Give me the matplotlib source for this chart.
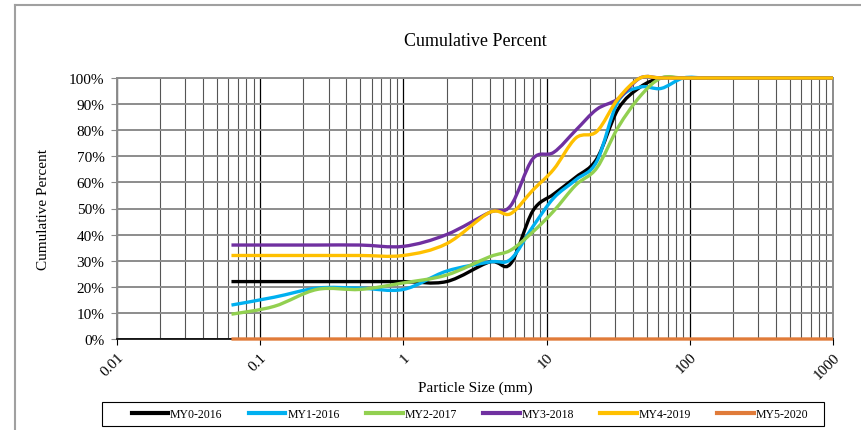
import matplotlib
matplotlib.use("Agg")
import matplotlib.pyplot as plt
import numpy as np
from matplotlib.lines import Line2D
from matplotlib.patches import PathPatch, Rectangle
from matplotlib.path import Path
from matplotlib.ticker import FixedLocator, LogLocator, NullFormatter

plt.rcParams["font.family"] = ["Liberation Serif", "DejaVu Serif"]

# sieve sizes (mm) and cumulative percent passing per survey year
sizes = [0.063, 0.125, 0.25, 0.5, 1, 2, 4, 5.6, 8, 11.2, 16, 22.4, 31.5, 45, 63, 90, 128, 180, 256, 362, 512, 1000]

my0_2016 = [22, 22, 22, 22, 22, 22, 29.5, 28.8, 49, 55.5, 62, 69, 88, 96.5, 100, 100, 100, 100, 100, 100, 100, 100]
my1_2016 = [13, 16, 19.5, 19.5, 19, 26, 29.5, 30.5, 43, 54, 61, 68, 91, 96.5, 96, 100, 100, 100, 100, 100, 100, 100]
my2_2017 = [9.5, 12.5, 19, 19, 21.5, 24.5, 31.5, 34, 41, 49, 59, 65.5, 81, 93, 100, 100, 100, 100, 100, 100, 100, 100]
my3_2018 = [36, 36, 36, 36, 35.5, 40, 48.5, 51, 69, 71.5, 80, 88, 92, 100, 100, 100, 100, 100, 100, 100, 100, 100]
my4_2019 = [32, 32, 32, 32, 32, 36.5, 48.5, 48, 57, 65, 77, 79.5, 92, 100, 100, 100, 100, 100, 100, 100, 100, 100]
my5_2020 = [0] * len(sizes)

series_names = ["MY0-2016", "MY1-2016", "MY2-2017", "MY3-2018", "MY4-2019", "MY5-2020"]
series_values = [my0_2016, my1_2016, my2_2017, my3_2018, my4_2019, my5_2020]
colors = ["#000000", "#00B0F0", "#92D050", "#7030A0", "#FFC000", "#E07B39"]

y_ticks = list(range(0, 101, 10))
x_ticks = [0.01, 0.1, 1, 10, 100, 1000]
x_tick_labels = ["0.01", "0.1", "1", "10", "100", "1000"]


def smooth_path(x, y):
    # excel-style smoothed line: cubic bezier through the points, built in log-x space
    pts = np.column_stack([np.log10(x), np.asarray(y, dtype=float)])
    n = len(pts)
    verts = [pts[0]]
    codes = [Path.MOVETO]
    for i in range(n - 1):
        p0 = pts[max(i - 1, 0)]
        p1 = pts[i]
        p2 = pts[i + 1]
        p3 = pts[min(i + 2, n - 1)]
        verts += [p1 + (p2 - p0) / 6, p2 - (p3 - p1) / 6, p2]
        codes += [Path.CURVE4] * 3
    verts = np.array(verts)
    verts[:, 0] = 10 ** verts[:, 0]
    return Path(verts, codes)


fig = plt.figure(figsize=(8.61, 4.31), dpi=100)
ax = fig.add_axes([117 / 861, 1 - 340 / 431, 716 / 861, 261 / 431])

ax.set_xscale("log")
ax.set_xlim(0.01, 1000)
ax.set_ylim(0, 100)

ax.xaxis.set_major_locator(FixedLocator(x_ticks))
ax.set_xticklabels(x_tick_labels, rotation=45, ha="right", va="top", rotation_mode="anchor", fontsize=11)
ax.xaxis.set_minor_locator(LogLocator(base=10, subs=np.arange(2, 10)))
ax.xaxis.set_minor_formatter(NullFormatter())
ax.set_yticks(y_ticks)
ax.set_yticklabels([f"{v}%" for v in y_ticks], fontsize=11)

ax.grid(True, which="major", axis="x", color="#000000", linewidth=0.9)
ax.grid(True, which="minor", axis="x", color="#555555", linewidth=0.8)
ax.grid(True, which="major", axis="y", color="#8c8c8c", linewidth=1.4)
ax.set_axisbelow(True)
ax.tick_params(axis="x", which="minor", length=0)
ax.tick_params(axis="x", which="major", length=4, color="#000000", pad=4)
ax.tick_params(axis="y", length=4, color="#8c8c8c", pad=5)

for side in ["top", "left", "right"]:
    ax.spines[side].set_color("#8c8c8c")
    ax.spines[side].set_linewidth(1.4)
ax.spines["bottom"].set_color("#000000")
ax.spines["bottom"].set_linewidth(1.2)

handles = []
for k, (name, vals, col) in enumerate(zip(series_names, series_values, colors)):
    patch = PathPatch(smooth_path(sizes, vals), facecolor="none", edgecolor=col,
                      linewidth=2.4, transform=ax.transData, clip_on=False, zorder=3 + k)
    ax.add_patch(patch)
    handles.append(Line2D([], [], color=col, linewidth=3.0))

ax.set_title("Cumulative Percent", fontsize=13, pad=24)
ax.set_xlabel("Particle Size (mm)", fontsize=11, labelpad=0)
ax.set_ylabel("Cumulative Percent", fontsize=11, labelpad=14)

# legend entries spread over the inner part of the box, box drawn separately
leg = fig.legend(handles, series_names, loc="center", ncol=6, mode="expand",
                 bbox_to_anchor=(128 / 861, 1 - 427 / 431, 684 / 861, 24 / 431),
                 fontsize=8.5, handlelength=3.1, handletextpad=0.15, frameon=False,
                 borderaxespad=0, borderpad=0.3)
fig.add_artist(Rectangle((102 / 861, 1 - 427 / 431), 722 / 861, 24 / 431, transform=fig.transFigure,
                         facecolor="none", edgecolor="#000000", linewidth=0.8))

# chart area border (left and top edges visible in the crop)
fig.add_artist(Line2D([15 / 861, 15 / 861], [0, 1 - 6 / 431], transform=fig.transFigure, color="#a0a0a0", linewidth=1.5))
fig.add_artist(Line2D([15 / 861, 1], [1 - 6 / 431, 1 - 6 / 431], transform=fig.transFigure, color="#a0a0a0", linewidth=1.5))

fig.savefig("out.png", dpi=100)
